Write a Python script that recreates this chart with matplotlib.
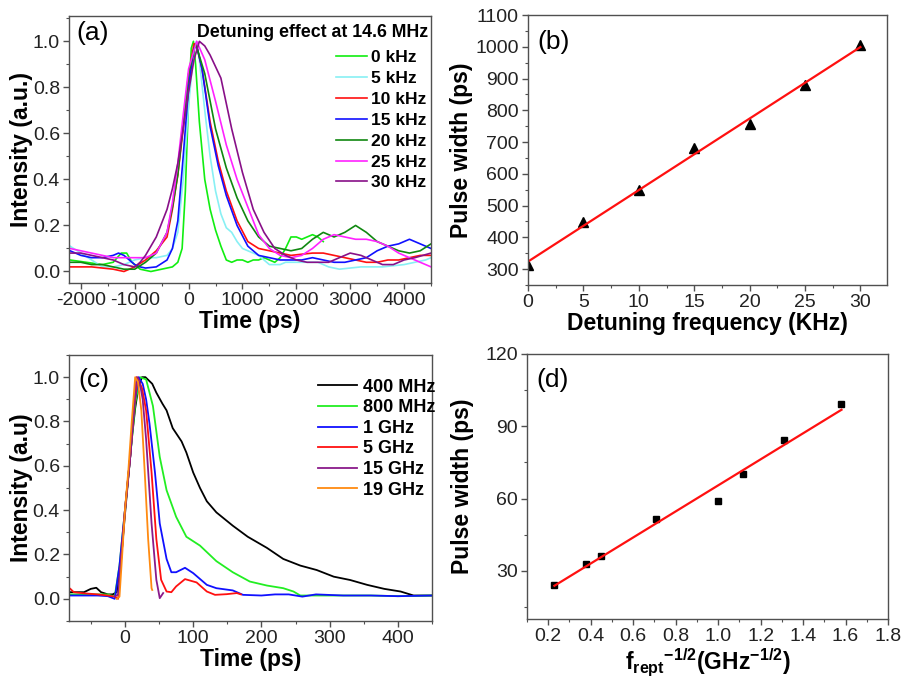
import numpy as np
import matplotlib
matplotlib.use("Agg")
import matplotlib.pyplot as plt
from matplotlib.ticker import MultipleLocator

plt.rcParams['font.family'] = ['Liberation Sans', 'DejaVu Sans']
plt.rcParams['axes.unicode_minus'] = False
plt.rcParams['mathtext.fontset'] = 'custom'
plt.rcParams['mathtext.rm'] = 'Liberation Sans:bold'
plt.rcParams['mathtext.bf'] = 'Liberation Sans:bold'
plt.rcParams['mathtext.it'] = 'Liberation Sans:bold'
plt.rcParams['mathtext.default'] = 'bf'

# ---------------- Panel (a) data ----------------
a_title = "Detuning effect at 14.6 MHz"
a_labels = ["0 kHz", "5 kHz", "10 kHz", "15 kHz", "20 kHz", "25 kHz", "30 kHz"]
a_colors = ["#11ee11", "#88f0f4", "#ff1010", "#1010ff", "#108810", "#ff22ff", "#881088"]

t_0k = [-2200, -1900, -1600, -1400, -1250, -1150, -1050, -900, -700, -500, -300, -200, -120, -60, 0, 50, 90, 130,
        200, 300, 400, 500, 600, 700, 800, 900, 1000, 1100, 1200, 1300, 1400, 1500, 1600, 1700, 1800, 1900, 2000,
        2100, 2200, 2300, 2400, 2500]
i_0k = [0.05, 0.04, 0.03, 0.04, 0.08, 0.08, 0.04, 0.01, 0.0, 0.01, 0.02, 0.04, 0.1, 0.35, 0.75, 0.97, 1.0, 0.9,
        0.65, 0.4, 0.27, 0.18, 0.11, 0.05, 0.04, 0.05, 0.05, 0.04, 0.05, 0.05, 0.06, 0.05, 0.04, 0.06, 0.1, 0.15,
        0.15, 0.14, 0.15, 0.16, 0.15, 0.13]

t_5k = [-2200, -2000, -1800, -1600, -1400, -1200, -1000, -800, -600, -400, -300, -200, -100, 0, 100, 150, 200, 300,
        400, 500, 600, 700, 800, 900, 1000, 1100, 1200, 1300, 1400, 1500, 1600, 1700, 1800, 2000, 2200, 2400, 2600,
        2800, 3000, 3200, 3400, 3600, 3800, 4000, 4200, 4400, 4500]
i_5k = [0.11, 0.08, 0.05, 0.02, 0.02, 0.03, 0.05, 0.06, 0.06, 0.07, 0.1, 0.17, 0.4, 0.72, 0.97, 1.0, 0.92, 0.7,
        0.5, 0.35, 0.25, 0.19, 0.17, 0.13, 0.1, 0.09, 0.08, 0.07, 0.05, 0.03, 0.03, 0.03, 0.04, 0.04, 0.04, 0.04,
        0.02, 0.01, 0.015, 0.02, 0.02, 0.02, 0.025, 0.03, 0.04, 0.05, 0.06]

t_10k = [-2200, -2000, -1800, -1600, -1400, -1200, -1000, -800, -600, -400, -300, -200, -100, 0, 100, 150, 250, 400,
         550, 700, 900, 1100, 1300, 1500, 1700, 1900, 2100, 2300, 2500, 2700, 2900, 3100, 3300, 3500, 3700, 3900,
         4100, 4300, 4500]
i_10k = [0.02, 0.02, 0.02, 0.015, 0.01, 0.0, 0.02, 0.05, 0.09, 0.15, 0.27, 0.42, 0.62, 0.85, 0.99, 0.98, 0.88, 0.65,
         0.48, 0.35, 0.22, 0.13, 0.1, 0.09, 0.08, 0.07, 0.075, 0.08, 0.08, 0.07, 0.06, 0.05, 0.04, 0.04, 0.05, 0.05,
         0.06, 0.07, 0.07]

t_15k = [-2200, -2000, -1800, -1600, -1400, -1300, -1200, -1100, -1000, -900, -800, -600, -400, -300, -200, -100, 0,
         100, 150, 250, 400, 550, 700, 900, 1100, 1300, 1500, 1700, 1900, 2100, 2300, 2500, 2700, 2900, 3100, 3300,
         3500, 3700, 3900, 4100, 4300, 4500]
i_15k = [0.09, 0.07, 0.06, 0.06, 0.07, 0.08, 0.07, 0.05, 0.03, 0.02, 0.015, 0.02, 0.05, 0.1, 0.22, 0.5, 0.8,
         0.97, 0.98, 0.88, 0.63, 0.46, 0.33, 0.2, 0.11, 0.07, 0.06, 0.05, 0.05, 0.05, 0.06, 0.05, 0.04, 0.04, 0.05,
         0.06, 0.09, 0.11, 0.12, 0.14, 0.12, 0.1]

t_20k = [-2200, -2000, -1800, -1600, -1400, -1200, -1000, -800, -600, -400, -300, -200, -100, 0, 130, 300, 500, 700,
         900, 1100, 1300, 1500, 1700, 1900, 2100, 2300, 2500, 2700, 2900, 3100, 3300, 3500, 3700, 3900, 4100, 4300,
         4500]
i_20k = [0.04, 0.04, 0.03, 0.03, 0.02, 0.01, 0.01, 0.04, 0.08, 0.17, 0.28, 0.42, 0.64, 0.86, 0.99, 0.86, 0.62, 0.45,
         0.32, 0.22, 0.15, 0.11, 0.1, 0.09, 0.1, 0.14, 0.17, 0.15, 0.17, 0.2, 0.17, 0.13, 0.11, 0.09, 0.08, 0.09,
         0.12]

t_25k = [-2200, -2000, -1800, -1600, -1400, -1200, -1000, -800, -600, -400, -300, -200, -100, 0, 150, 300, 500, 700,
         900, 1100, 1300, 1500, 1700, 1900, 2100, 2300, 2500, 2700, 2900, 3100, 3300, 3500, 3700, 3900, 4100, 4300,
         4500]
i_25k = [0.1, 0.09, 0.08, 0.07, 0.06, 0.06, 0.06, 0.06, 0.08, 0.17, 0.3, 0.47, 0.68, 0.88, 1.0, 0.92, 0.74, 0.55,
         0.4, 0.28, 0.16, 0.1, 0.07, 0.06, 0.07, 0.1, 0.14, 0.16, 0.15, 0.14, 0.14, 0.13, 0.11, 0.08, 0.06, 0.04,
         0.02]

t_30k = [-2200, -2000, -1800, -1600, -1400, -1200, -1000, -900, -800, -600, -400, -300, -200, -100, 0, 100, 200, 300,
         400, 600, 800, 1000, 1200, 1400, 1600, 1800, 2000, 2200, 2400, 2600, 2800, 3000, 3200, 3400, 3600, 3800,
         4000, 4200, 4500]
i_30k = [0.08, 0.08, 0.07, 0.06, 0.05, 0.03, 0.02, 0.04, 0.07, 0.15, 0.27, 0.36, 0.47, 0.62, 0.78, 0.92, 1.0, 0.98,
         0.94, 0.84, 0.62, 0.43, 0.27, 0.17, 0.1, 0.07, 0.05, 0.04, 0.04, 0.04, 0.06, 0.08, 0.07, 0.05, 0.03, 0.03,
         0.05, 0.06, 0.08]

a_times = [t_0k, t_5k, t_10k, t_15k, t_20k, t_25k, t_30k]
a_ints = [i_0k, i_5k, i_10k, i_15k, i_20k, i_25k, i_30k]

# ---------------- Panel (b) data ----------------
b_detuning = [0, 5, 10, 15, 20, 25, 30]
b_width = [312, 448, 548, 680, 757, 880, 1005]

# ---------------- Panel (c) data ----------------
c_labels = ["400 MHz", "800 MHz", "1 GHz", "5 GHz", "15 GHz", "19 GHz"]
c_colors = ["#000000", "#22ee22", "#1010ff", "#ff1010", "#8a1a8a", "#ff8a10"]

t_400M = [-80, -70, -60, -50, -42, -35, -25, -18, -12, -5, 0, 5, 10, 15, 20, 25, 30, 40, 46, 55, 61, 70, 83, 90, 100,
          110, 120, 134, 158, 180, 208, 232, 257, 281, 306, 330, 355, 380, 404, 423, 450]
i_400M = [0.03, 0.03, 0.03, 0.045, 0.05, 0.03, 0.02, 0.02, 0.03, 0.2, 0.38, 0.55, 0.72, 0.86, 0.96, 1.0, 1.0, 0.97,
          0.93, 0.88, 0.85, 0.77, 0.71, 0.66, 0.57, 0.5, 0.44, 0.39, 0.33, 0.28, 0.23, 0.18, 0.15, 0.13, 0.1, 0.085,
          0.063, 0.045, 0.033, 0.015, 0.015]

t_800M = [-80, -60, -40, -25, -15, -8, 0, 8, 15, 22, 31, 41, 51, 61, 75, 90, 110, 134, 158, 183, 208, 232, 247, 257,
          280, 320, 360, 400, 450]
i_800M = [0.02, 0.02, 0.02, 0.02, 0.01, 0.15, 0.4, 0.65, 0.88, 1.0, 0.99, 0.87, 0.64, 0.49, 0.37, 0.28, 0.24, 0.17,
          0.12, 0.078, 0.06, 0.048, 0.033, 0.015, 0.015, 0.015, 0.015, 0.012, 0.015]

t_1G = [-80, -60, -40, -25, -15, -8, 0, 8, 14, 20, 26, 31, 36, 44, 51, 61, 68, 75, 88, 100, 120, 134, 158, 173, 200,
        220, 240, 260, 280, 320, 360, 400, 450]
i_1G = [0.015, 0.015, 0.015, 0.012, 0.0, 0.15, 0.4, 0.65, 0.88, 1.0, 0.97, 0.9, 0.79, 0.57, 0.34, 0.18, 0.12, 0.12,
        0.14, 0.116, 0.063, 0.048, 0.038, 0.018, 0.015, 0.02, 0.02, 0.01, 0.02, 0.015, 0.015, 0.012, 0.015]

t_5G = [-80, -75, -60, -40, -25, -15, -10, -5, 0, 8, 13, 18, 25, 31, 39, 46, 53, 61, 68, 75, 88, 105, 120, 132, 149,
        164, 170]
i_5G = [0.045, 0.03, 0.025, 0.02, 0.015, 0.01, 0.0, 0.2, 0.4, 0.65, 0.85, 1.0, 0.95, 0.85, 0.57, 0.27, 0.086, 0.033,
        0.03, 0.056, 0.089, 0.074, 0.033, 0.018, 0.021, 0.026, 0.02]

t_15G = [-15, -10, -5, 0, 8, 12, 17, 22, 26, 31, 39, 46, 51, 56]
i_15G = [0.01, 0.02, 0.2, 0.4, 0.65, 0.82, 1.0, 0.97, 0.9, 0.72, 0.34, 0.086, 0.003, 0.026]

t_19G = [-12, -8, -4, 0, 5, 10, 15, 19, 24, 29, 34, 39, 40]
i_19G = [0.0, 0.01, 0.2, 0.4, 0.58, 0.8, 1.0, 0.98, 0.85, 0.57, 0.27, 0.048, 0.04]

c_times = [t_400M, t_800M, t_1G, t_5G, t_15G, t_19G]
c_ints = [i_400M, i_800M, i_1G, i_5G, i_15G, i_19G]

# ---------------- Panel (d) data ----------------
d_x = [0.229, 0.378, 0.447, 0.707, 1.0, 1.118, 1.31, 1.581]
d_width = [24.2, 32.7, 36.2, 51.5, 59.0, 70.3, 84.2, 99.1]

# ---------------- Figure ----------------
fig = plt.figure(figsize=(9.03, 6.78), dpi=100)
W, H = 903, 678


def add_ax(l, t, r, b):
    return fig.add_axes([l / W, 1 - b / H, (r - l) / W, (b - t) / H])


spine_col = "#505050"


def style(ax):
    for s in ax.spines.values():
        s.set_color(spine_col)
        s.set_linewidth(1.0)
    ax.tick_params(which='both', direction='out', colors=spine_col, labelcolor='#222222',
                   top=False, right=False, labelsize=14)
    ax.tick_params(which='major', length=4, width=1.0, pad=2.5)
    ax.tick_params(which='minor', length=2.5, width=0.8)


lab_kw = dict(fontsize=16.5, fontweight='bold')

# (a)
axa = add_ax(69, 16, 431, 283)
for t, i, c, l in zip(a_times, a_ints, a_colors, a_labels):
    axa.plot(t, i, color=c, lw=1.2, label=l)
axa.set_xlim(-2220, 4500)
axa.set_ylim(-0.05, 1.11)
axa.xaxis.set_major_locator(MultipleLocator(1000))
axa.xaxis.set_minor_locator(MultipleLocator(500))
axa.yaxis.set_major_locator(MultipleLocator(0.2))
axa.yaxis.set_minor_locator(MultipleLocator(0.1))
axa.yaxis.set_major_formatter(matplotlib.ticker.FormatStrFormatter('%.1f'))
style(axa)
axa.set_xlabel("Time (ps)", labelpad=1, **lab_kw)
axa.set_ylabel("Intensity (a.u.)", labelpad=0, **lab_kw)
axa.text(0.02, 0.935, "(a)", transform=axa.transAxes, fontsize=19, va='center', ha='left')
axa.text(0.993, 0.94, a_title, transform=axa.transAxes, fontsize=12.8, fontweight='bold',
         va='center', ha='right')
axa.legend(loc='upper left', bbox_to_anchor=(0.713, 0.905), frameon=False, borderpad=0,
           handlelength=1.8, handletextpad=0.25, labelspacing=0.33,
           prop={'size': 12.5, 'weight': 'bold'})

# (b)
axb = add_ax(528, 15, 887, 285)
axb.plot(b_detuning, b_width, linestyle='none', marker='^', color='black', markersize=7.5)
coef_b = np.polyfit(b_detuning, b_width, 1)
xb = np.array([min(b_detuning), max(b_detuning)])
axb.plot(xb, np.polyval(coef_b, xb), color='#ff1010', lw=1.6)
axb.set_xlim(0, 32.4)
axb.set_ylim(250, 1100)
axb.xaxis.set_major_locator(MultipleLocator(5))
axb.xaxis.set_minor_locator(MultipleLocator(2.5))
axb.yaxis.set_major_locator(MultipleLocator(100))
axb.yaxis.set_minor_locator(MultipleLocator(50))
axb.set_yticks(np.arange(300, 1101, 100))
style(axb)
axb.set_xlabel("Detuning frequency (KHz)", labelpad=1, **lab_kw)
axb.set_ylabel("Pulse width (ps)", labelpad=2, **lab_kw)
axb.text(0.025, 0.9, "(b)", transform=axb.transAxes, fontsize=19, va='center', ha='left')

# (c)
axc = add_ax(69, 355, 432, 621)
for t, i, c, l in zip(c_times, c_ints, c_colors, c_labels):
    axc.plot(t, i, color=c, lw=1.3, label=l)
axc.set_xlim(-82, 450)
axc.set_ylim(-0.1, 1.1)
axc.xaxis.set_major_locator(MultipleLocator(100))
axc.xaxis.set_minor_locator(MultipleLocator(50))
axc.yaxis.set_major_locator(MultipleLocator(0.2))
axc.yaxis.set_minor_locator(MultipleLocator(0.1))
axc.set_yticks(np.arange(0, 1.01, 0.2))
axc.yaxis.set_major_formatter(matplotlib.ticker.FormatStrFormatter('%.1f'))
style(axc)
axc.set_xlabel("Time (ps)", labelpad=1, **lab_kw)
axc.set_ylabel("Intensity (a.u)", labelpad=0, **lab_kw)
axc.text(0.025, 0.905, "(c)", transform=axc.transAxes, fontsize=19, va='center', ha='left')
axc.legend(loc='upper left', bbox_to_anchor=(0.66, 0.945), frameon=False, borderpad=0,
           handlelength=2.2, handletextpad=0.3, labelspacing=0.2,
           prop={'size': 13, 'weight': 'bold'})

# (d)
axd = add_ax(527, 354, 888, 619)
axd.plot(d_x, d_width, linestyle='none', marker='s', color='black', markersize=5)
coef_d = np.polyfit(d_x, d_width, 1)
xd = np.array([min(d_x), max(d_x)])
axd.plot(xd, np.polyval(coef_d, xd), color='#ff1010', lw=1.6)
axd.set_xlim(0.1, 1.8)
axd.set_ylim(10, 120)
axd.xaxis.set_major_locator(MultipleLocator(0.2))
axd.xaxis.set_minor_locator(MultipleLocator(0.1))
axd.set_xticks(np.arange(0.2, 1.81, 0.2))
axd.set_yticks([30, 60, 90, 120])
axd.yaxis.set_minor_locator(MultipleLocator(15))
axd.xaxis.set_major_formatter(matplotlib.ticker.FormatStrFormatter('%.1f'))
style(axd)
axd.set_xlabel(r"f$_{rept}$$^{-1/2}$(GHz$^{-1/2}$)", labelpad=1, **lab_kw)
axd.set_ylabel("Pulse width (ps)", labelpad=8, **lab_kw)
axd.text(0.025, 0.9, "(d)", transform=axd.transAxes, fontsize=19, va='center', ha='left')

fig.savefig("out.png", dpi=100)
